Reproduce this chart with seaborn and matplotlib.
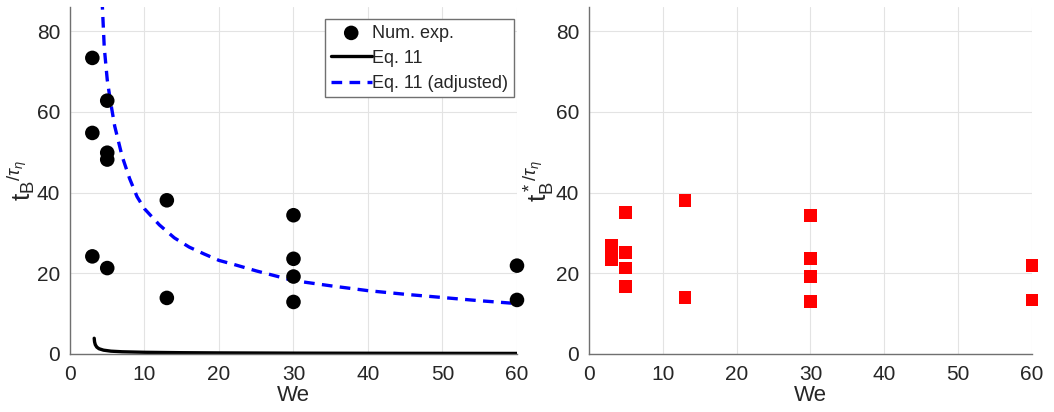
import matplotlib
matplotlib.use('Agg')
import matplotlib.pyplot as plt
import numpy as np
import pandas as pd
import seaborn as sns

# numerical experiments (left panel)
we_num = [3, 3, 3, 5, 5, 5, 5, 13, 13, 30, 30, 30, 30, 60, 60]
tb_num = [73.4, 54.8, 24.2, 62.8, 49.9, 48.2, 21.3, 38.1, 13.9, 34.4, 23.6, 19.2, 12.9, 21.9, 13.4]

# Eq. 11 curve
we_eq = [3.25, 3.3, 3.4, 3.6, 3.9, 4.5, 5.5, 7, 10, 15, 20, 30, 40, 50, 60]
tb_eq = [3.9, 3.0, 2.3, 1.7, 1.3, 0.95, 0.7, 0.55, 0.42, 0.32, 0.27, 0.21, 0.18, 0.16, 0.14]

# Eq. 11 (adjusted)
we_adj = [4.25, 4.6, 5.0, 5.4, 6.0, 7.0, 8.0, 9.0, 10, 12, 14, 16, 18, 20, 22, 25, 30, 35, 40, 45, 50, 55, 60]
tb_adj = [90, 76, 68, 63, 56.5, 49, 43.5, 39, 36, 32, 28.8, 26.5, 24.8, 23.2, 22.2, 20.6, 18.2, 16.9, 15.7, 14.8, 14.0, 13.2, 12.5]

# corrected break-up times (right panel)
we_star = [3, 3, 3, 5, 5, 5, 5, 13, 13, 30, 30, 30, 30, 60, 60]
tb_star = [26.8, 25.0, 23.3, 35.0, 25.2, 21.3, 16.7, 38.1, 14.0, 34.4, 23.6, 19.3, 13.0, 21.9, 13.4]

sns.set_style('whitegrid')
plt.rcParams['font.family'] = ['Liberation Sans', 'DejaVu Sans']
plt.rcParams['mathtext.fontset'] = 'custom'
plt.rcParams['mathtext.rm'] = 'Liberation Sans'
plt.rcParams['mathtext.it'] = 'Liberation Sans:italic'
plt.rcParams['mathtext.sf'] = 'Liberation Sans'

fig = plt.figure(figsize=(10.54, 4.12), dpi=100)
ax1 = fig.add_axes([0.0664, 0.1408, 0.4241, 0.842])
ax2 = fig.add_axes([0.5588, 0.1408, 0.4203, 0.842])

sns.scatterplot(x=we_num, y=tb_num, ax=ax1, color='black', s=110, marker='o',
                edgecolor='none', label='Num. exp.', clip_on=False, zorder=3)
sns.lineplot(x=we_eq, y=tb_eq, ax=ax1, color='black', linewidth=2.4,
             sort=False, estimator=None, label='Eq. 11')
sns.lineplot(x=we_adj, y=tb_adj, ax=ax1, color='#0000ff', linewidth=2.4,
             sort=False, estimator=None, label='Eq. 11 (adjusted)')
ax1.lines[-1].set_dashes((3.2, 2.2))

sns.scatterplot(x=we_star, y=tb_star, ax=ax2, color='#ff0000', s=85, marker='s',
                edgecolor='none', clip_on=False, zorder=3)

for ax in (ax1, ax2):
    ax.set_xlim(0, 60)
    ax.set_ylim(0, 86)
    ax.set_xticks(range(0, 61, 10))
    ax.set_yticks(range(0, 81, 20))
    ax.grid(True, color='#e3e3e3', linewidth=0.8)
    ax.set_axisbelow(True)
    for s in ('top', 'right'):
        ax.spines[s].set_visible(False)
    for s in ('left', 'bottom'):
        ax.spines[s].set_color('#707070')
        ax.spines[s].set_linewidth(1.0)
    ax.tick_params(axis='both', direction='in', length=4, width=0.8, color='#707070',
                   labelsize=15, labelcolor='#262626', pad=7)
    ax.tick_params(axis='x', pad=8)
    ax.set_xlabel('We', fontsize=16, color='#262626', labelpad=1)

ax1.set_ylabel(r'$\mathrm{t_B}{}^{/\tau_\eta}$', fontsize=19, color='#262626', labelpad=0)
ax2.set_ylabel(r'$\mathrm{t_B^*}{}^{/\tau_\eta}$', fontsize=19, color='#262626', labelpad=0)

leg = ax1.legend(loc='upper right', bbox_to_anchor=(0.993, 0.965), fontsize=13,
                 frameon=True, fancybox=False, framealpha=1, edgecolor='#707070',
                 handlelength=2.25, handletextpad=0.05, borderpad=0.3, labelspacing=0.45,
                 borderaxespad=0.0)
leg.get_frame().set_linewidth(1.0)

fig.savefig('out.png', dpi=100)
